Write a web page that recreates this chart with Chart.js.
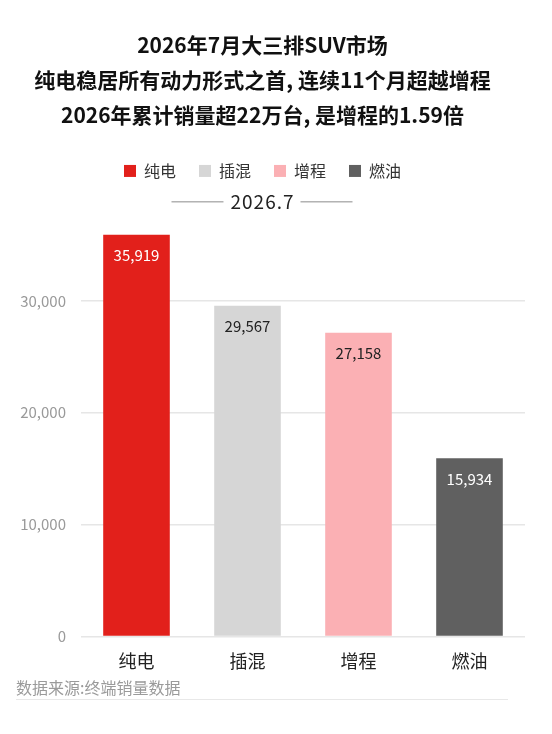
<!DOCTYPE html>
<html lang="zh-CN">
<head>
<meta charset="utf-8">
<title>2026年7月大三排SUV市场</title>
<script src="https://cdn.jsdelivr.net/npm/chart.js@4.4.1/dist/chart.umd.min.js"></script>
<style>
  html, body { margin: 0; padding: 0; background: #fff; }
  .wrap { position: relative; width: 552px; height: 734px; overflow: hidden; }
  .chart-box { position: absolute; left: 0; top: 0; width: 552px; height: 686px; }
  .source {
    position: absolute; left: 16px; top: 677px; width: 492px;
    font: 16px/20px "Noto Sans CJK SC", sans-serif; color: #9a9a9a;
    padding-bottom: 2px; border-bottom: 1.5px solid #e8e8e8;
  }
</style>
</head>
<body>
<div class="wrap">
  <div class="chart-box"><canvas id="chart"></canvas></div>
  <div class="source">数据来源:终端销量数据</div>
</div>
<script>
// chart data
const TITLE_LINES = [
  '2026年7月大三排SUV市场',
  '纯电稳居所有动力形式之首, 连续11个月超越增程',
  '2026年累计销量超22万台, 是增程的1.59倍'
];
const PERIOD = '2026.7';
const CATEGORIES = ['纯电', '插混', '增程', '燃油'];
const SALES = [35919, 29567, 27158, 15934];
const Y_TICKS = [0, 10000, 20000, 30000];

const FONT = '"Noto Sans CJK SC", "Noto Sans", sans-serif';
const BAR_COLORS = ['#e2201b', '#d6d6d6', '#fbb0b4', '#606060'];
const LABEL_COLORS = ['#ffffff', '#222222', '#222222', '#ffffff'];

const SUB_FONT_SIZE = 19;
const SUB_PAD_TOP = 1;

// value printed inside the top of each bar
const valueLabels = {
  id: 'valueLabels',
  afterDatasetsDraw(chart) {
    const ctx = chart.ctx;
    const meta = chart.getDatasetMeta(0);
    ctx.save();
    ctx.font = '15px ' + FONT;
    ctx.textAlign = 'center';
    ctx.textBaseline = 'middle';
    meta.data.forEach((bar, i) => {
      ctx.fillStyle = LABEL_COLORS[i];
      ctx.fillText(SALES[i].toLocaleString('en-US'), bar.x, bar.y + 21);
    });
    ctx.restore();
  }
};

// period subtitle drawn with letter spacing, plus short rules on both sides
const subtitleRules = {
  id: 'subtitleRules',
  afterDraw(chart) {
    const box = chart.boxes.find(b => b.options && b.options.text === PERIOD);
    if (!box) return;
    const ctx = chart.ctx;
    ctx.save();
    ctx.font = SUB_FONT_SIZE + 'px ' + FONT;
    ctx.letterSpacing = '1px';
    const w = ctx.measureText(PERIOD).width;
    const cx = (box.left + box.right) / 2;
    const cy = box.top + SUB_PAD_TOP + SUB_FONT_SIZE * 1.2 / 2;
    ctx.fillStyle = '#222';
    ctx.textAlign = 'center';
    ctx.textBaseline = 'middle';
    ctx.fillText(PERIOD, cx, cy);
    ctx.strokeStyle = '#8c8c8c';
    ctx.lineWidth = 1;
    ctx.beginPath();
    ctx.moveTo(cx - w / 2 - 7, cy + 0.5);
    ctx.lineTo(cx - w / 2 - 59, cy + 0.5);
    ctx.moveTo(cx + w / 2 + 6, cy + 0.5);
    ctx.lineTo(cx + w / 2 + 58, cy + 0.5);
    ctx.stroke();
    ctx.restore();
  }
};

new Chart(document.getElementById('chart'), {
  type: 'bar',
  data: {
    labels: CATEGORIES,
    datasets: [{
      data: SALES,
      backgroundColor: BAR_COLORS,
      borderWidth: 0,
      categoryPercentage: 1,
      barPercentage: 0.6
    }]
  },
  options: {
    responsive: true,
    maintainAspectRatio: false,
    animation: false,
    layout: { padding: { top: 0, right: 27, bottom: 0, left: 0 } },
    plugins: {
      title: {
        display: true,
        text: TITLE_LINES,
        color: '#111',
        font: { family: FONT, size: 21, weight: 'bold', lineHeight: 1.65 },
        padding: { top: 28, bottom: 8 }
      },
      legend: {
        display: true,
        position: 'top',
        labels: {
          color: '#333',
          font: { family: FONT, size: 16 },
          boxWidth: 12,
          boxHeight: 12,
          padding: 23,
          generateLabels: () => CATEGORIES.map((c, i) => ({
            text: c,
            fillStyle: BAR_COLORS[i],
            strokeStyle: BAR_COLORS[i],
            lineWidth: 0,
            fontColor: '#333',
            index: i
          }))
        }
      },
      subtitle: {
        display: true,
        text: PERIOD,
        weight: 500,
        color: 'rgba(0,0,0,0)',
        font: { family: FONT, size: SUB_FONT_SIZE },
        padding: { top: SUB_PAD_TOP, bottom: 21 }
      },
      tooltip: { enabled: false }
    },
    scales: {
      x: {
        grid: { display: false, drawTicks: false },
        border: { display: false },
        ticks: { color: '#222', font: { family: FONT, size: 18 }, padding: 14 }
      },
      y: {
        min: 0,
        max: 36000,
        border: { display: false },
        grid: { color: '#e6e6e6', lineWidth: 1.5, drawTicks: false },
        ticks: {
          stepSize: 10000,
          color: '#9a9a9a',
          padding: 15,
          font: { family: FONT, size: 15 },
          callback: v => v.toLocaleString('en-US')
        },
        afterBuildTicks: scale => {
          scale.ticks = Y_TICKS.map(v => ({ value: v }));
        },
        afterFit: scale => { scale.width = 81; }
      }
    }
  },
  plugins: [valueLabels, subtitleRules]
});
</script>
</body>
</html>
